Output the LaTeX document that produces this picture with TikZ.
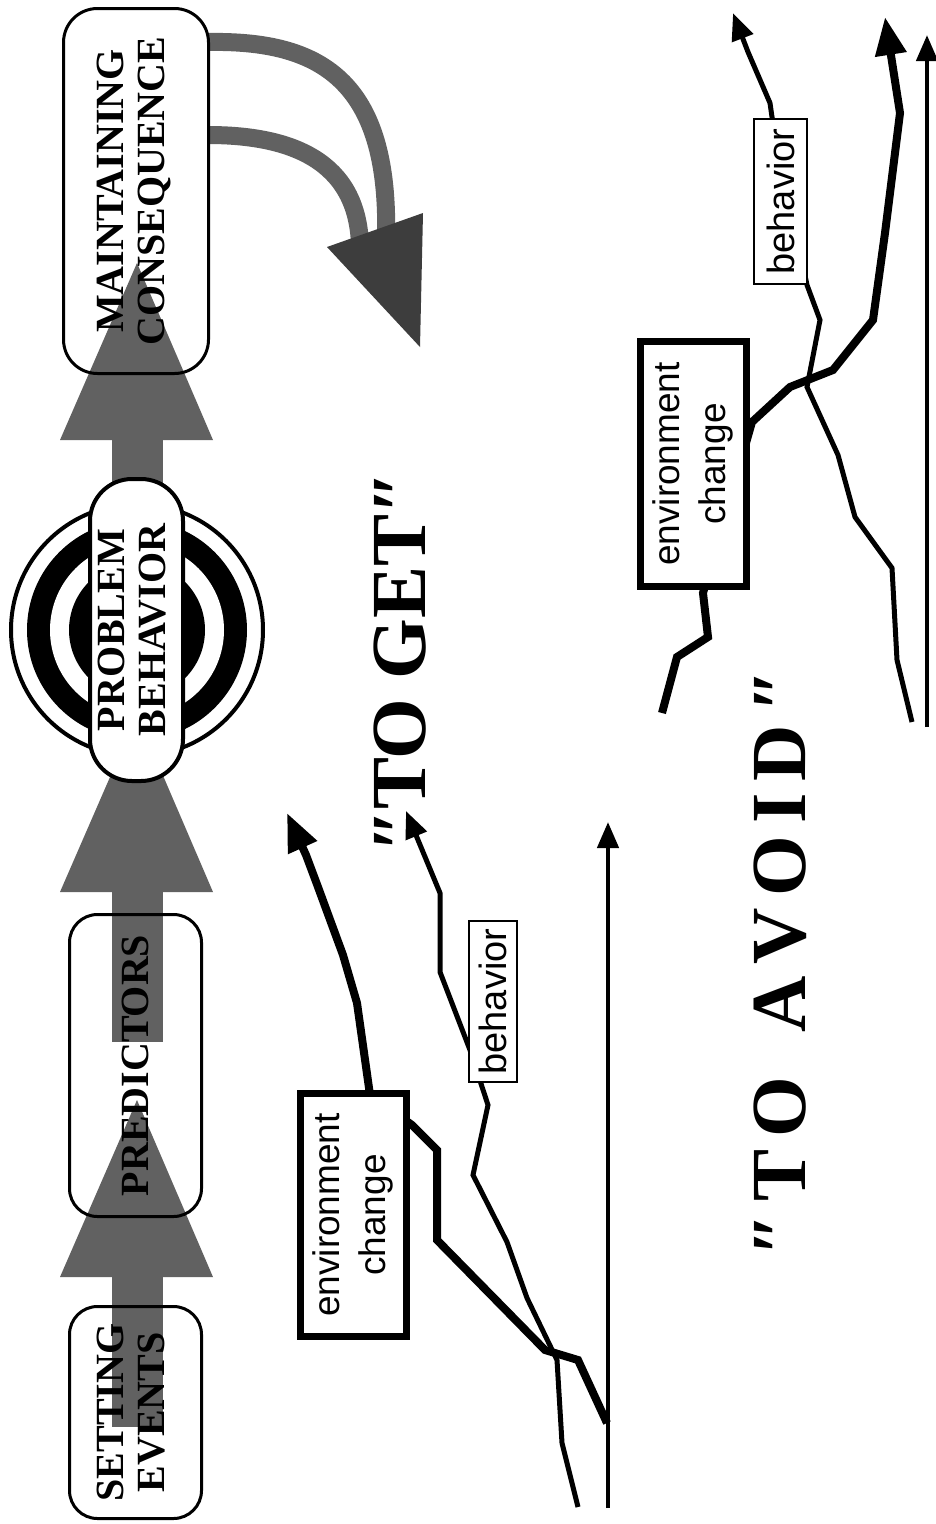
\documentclass[tikz,border=0pt]{standalone}
\usepackage{fontspec}
\setmainfont{Liberation Serif}
\setsansfont{Liberation Sans}
\usetikzlibrary{arrows.meta}
\colorlet{flowgray}{black!62}
\colorlet{headgray}{black!76}
\newcommand{\qmark}{{\itshape ″}}
\begin{document}
\begin{tikzpicture}[x=1pt,y=-1pt,
  flowfill/.style={fill=flowgray},
  stagebox/.style={draw, line width=3pt, rounded corners=28pt, inner sep=0pt,
    font=\bfseries\fontsize{40}{41}\selectfont},
  envbox/.style={draw, fill=white, line width=7pt, inner sep=0pt,
    minimum width=106pt, font=\sffamily\fontsize{37}{46}\selectfont},
  behbox/.style={draw, fill=white, line width=2pt, inner sep=0pt,
    font=\sffamily\fontsize{38}{44}\selectfont},
  envline/.style={line width=8pt, -{Triangle[length=38pt,width=30pt]}},
  behline/.style={line width=5pt, -{Triangle[length=27pt,width=22pt]}},
  axisline/.style={line width=4.5pt, -{Triangle[length=26pt,width=21pt]}},
  slogan/.style={rotate=90, anchor=base, inner sep=0pt,
    font=\bfseries\fontsize{78}{80}\selectfont}
]
% page
\fill[white] (0,0) rectangle (935,1524);
\useasboundingbox (0,0) rectangle (935,1524);

% ---- shaded flow arrows between the stages ----
\fill[flowfill] (112,1427) rectangle (163,1277);
\fill[flowfill] (60,1277) -- (213,1277) -- (137,1100) -- cycle;
\fill[flowfill] (112,1042) rectangle (163,892);
\fill[flowfill] (60,892) -- (213,892) -- (137,715) -- cycle;
\fill[flowfill] (112,600) rectangle (163,440);
\fill[flowfill] (60,440) -- (213,440) -- (137,263) -- cycle;

% ---- feedback arrow leaving the consequence box ----
\coordinate (fbA) at (208,42);
\coordinate (fbB) at (208,135);
\draw[flowgray, line width=18pt] (fbA) .. controls (320,40) and (390,80) .. (386,238);
\draw[flowgray, line width=18pt] (fbB) .. controls (290,135) and (358,160) .. (360,246);
\fill[headgray] (327,247) -- (423,213) -- (420,347) -- cycle;

% ---- target rings ----
\draw[line width=4pt, fill=white] (137,630) circle[radius=126pt];
\fill (137,630) circle[radius=110pt];
\fill[white] (137,630) circle[radius=87pt];
\fill (137,630) circle[radius=68pt];

% ---- stage boxes ----
\node[stagebox, minimum width=132pt, minimum height=212pt] (setting) at (135.5,1412.5)
  {\rotatebox{90}{\begin{tabular}{@{}c@{}}SETTING\\EVENTS\end{tabular}}};
\node[stagebox, minimum width=132pt, minimum height=302pt] (predict) at (135.5,1065.5)
  {\rotatebox{90}{PREDICTORS}};
\node[stagebox, fill=white, line width=4pt, rounded corners=42pt,
      minimum width=93pt, minimum height=302pt] (problem) at (136.5,630)
  {\rotatebox{90}{\begin{tabular}{@{}c@{}}PROBLEM\\BEHAVIOR\end{tabular}}};
\node[stagebox, rounded corners=34pt, minimum width=145pt, minimum height=365pt] (mcons) at (136,191)
  {\rotatebox{90}{\begin{tabular}{@{}c@{}}MAINTAINING\\CONSEQUENCE\end{tabular}}};

% ---- graph: "to get" ----
\draw[axisline] (608,1508) -- (608,822);
\draw[behline] (578,1507) -- (562,1443) -- (557,1360) -- (527,1298) -- (507,1242)
  -- (473,1175) -- (488,1105) -- (470,1050) -- (440,972) -- (440,893) -- (406,811);
\draw[envline] (607,1423) -- (578,1360) -- (545,1350) -- (437,1240) -- (437,1150)
  -- (412,1125) -- (370,1095) -- (357,1003) -- (343,955) -- (318,887) -- (306,855) -- (287,813);
\node[envbox, minimum height=243pt] (envA) at (353.5,1215)
  {\rotatebox{90}{\begin{tabular}{@{}c@{}}environment\\change\end{tabular}}};
\node[behbox, minimum width=48pt, minimum height=161pt] (behA) at (493,1001.5)
  {\rotatebox{90}{behavior}};

% ---- graph: "to avoid" ----
\draw[axisline] (927,727) -- (927,35);
\draw[behline] (912,722) -- (897,660) -- (892,568) -- (855,517) -- (838,455) -- (807,387)
  -- (820,320) -- (807,285) -- (772,117) -- (770,103) -- (748,52) -- (733,13);
\draw[envline] (662,713) -- (677,657) -- (708,637) -- (703,593) -- (752,422) -- (790,387)
  -- (833,370) -- (873,320) -- (885,233) -- (900,113) -- (885,17);
\node[envbox, minimum height=245pt] (envB) at (693.5,464)
  {\rotatebox{90}{\begin{tabular}{@{}c@{}}environment\\change\end{tabular}}};
\node[behbox, minimum width=53pt, minimum height=165pt] (behB) at (780.5,201.5)
  {\rotatebox{90}{behavior}};

% ---- captions ----
\node[slogan] (toget) at (425,662) {\qmark TO GET\qmark};
\node[slogan] (toavoid) at (805,963)
  {\qmark\kern12pt T\kern12pt O\kern12pt\ \kern12pt A\kern12pt V\kern12pt O\kern12pt I\kern12pt D\kern12pt\qmark};
\end{tikzpicture}
\end{document}
